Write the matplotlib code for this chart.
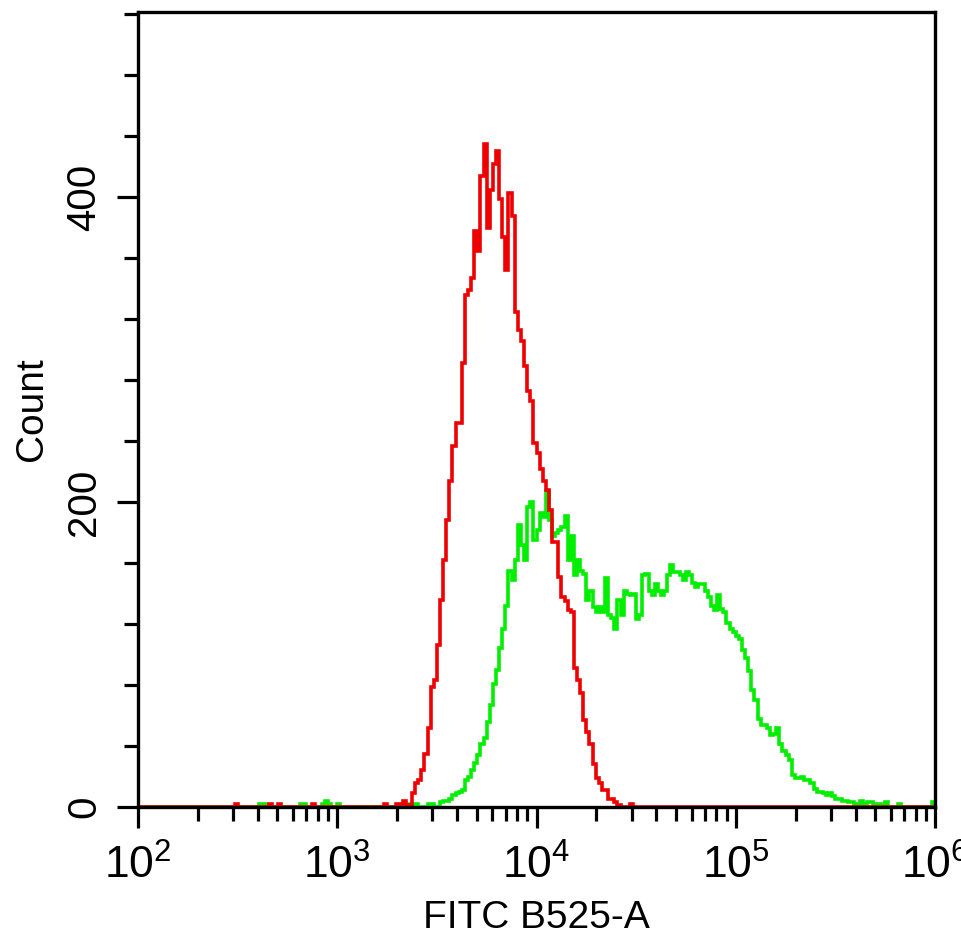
import numpy as np
import matplotlib
matplotlib.use("Agg")
import matplotlib.pyplot as plt
from matplotlib.ticker import LogLocator, MultipleLocator, FixedLocator, NullFormatter

plt.rcParams['font.family'] = ['Liberation Sans', 'DejaVu Sans']
plt.rcParams['mathtext.fontset'] = 'custom'
plt.rcParams['mathtext.rm'] = 'Liberation Sans'
plt.rcParams['mathtext.default'] = 'regular'

# histogram: 256 log bins from 10^2 to 10^6
n_bins = 256
log_lo, log_hi = 2, 6

# unstained / control (red), counts starting at bin red_first
red_first = 30
red_counts = [0, 2, 0, 0, 0, 0, 0, 0, 0, 0, 0, 0, 2, 0, 0, 2, 0, 0, 0, 0,
              0, 0, 0, 0, 0, 0, 2, 0, 0, 0, 0, 0, 0, 0, 0, 0, 0, 0, 0, 0,
              0, 0, 0, 0, 0, 0, 0, 0, 0, 2, 0, 0, 0, 2, 2, 4, 1, 1, 9, 16,
              18, 24, 35, 52, 79, 83, 106, 136, 162, 188, 214, 237, 252, 252, 291, 336, 339, 347, 378, 365,
              414, 435, 380, 405, 422, 430, 399, 374, 352, 403, 388, 325, 313, 306, 289, 273, 266, 239, 232, 222,
              214, 208, 195, 174, 174, 151, 138, 135, 129, 128, 91, 83, 75, 57, 49, 41, 28, 19, 16, 11,
              11, 5, 5, 3, 1, 0, 0, 0, 2]

# stained sample (green), counts starting at bin green_first
green_first = 38
green_counts = [0, 2, 2, 0, 0, 0, 0, 0, 0, 0, 0, 0, 0, 0, 2, 2, 0, 0, 0, 0,
                0, 2, 4, 2, 0, 0, 2, 0, 0, 0, 0, 0, 0, 0, 0, 0, 0, 0, 0, 0,
                0, 0, 0, 0, 0, 0, 0, 0, 0, 2, 0, 2, 0, 0, 0, 2, 2, 0, 0, 3,
                4, 4, 5, 8, 9, 10, 11, 18, 20, 24, 29, 34, 41, 45, 56, 67, 81, 90, 104, 117,
                132, 155, 149, 162, 185, 172, 162, 197, 200, 175, 182, 193, 190, 207, 188, 178, 180, 182, 184, 191,
                162, 178, 152, 162, 155, 153, 136, 142, 131, 128, 131, 128, 150, 126, 124, 117, 136, 126, 142, 140,
                139, 140, 123, 126, 152, 153, 142, 139, 146, 142, 139, 142, 152, 159, 154, 154, 152, 149, 154, 152,
                147, 144, 146, 146, 142, 138, 132, 129, 139, 130, 128, 121, 117, 115, 112, 110, 103, 98, 89, 77,
                70, 58, 54, 54, 52, 47, 48, 52, 41, 37, 34, 31, 21, 19, 19, 20, 18, 18, 16, 12,
                10, 10, 9, 8, 9, 7, 5, 5, 4, 4, 3, 3, 2, 2, 4, 2, 3, 3, 2, 2,
                2, 0, 3, 0, 0, 0, 2, 0, 0, 0, 0, 0, 0, 0, 0, 0, 0, 3]

x_label = "FITC B525-A"
y_label = "Count"
y_ticks = [0, 200, 400]


def full_counts(first, counts):
    arr = np.zeros(n_bins)
    arr[first:first + len(counts)] = counts
    return arr


edges = 10 ** np.linspace(log_lo, log_hi, n_bins + 1)

fig = plt.figure(figsize=(9.62, 9.38), dpi=100)
ax = fig.add_axes([138 / 962, 131 / 938, 797 / 962, 795 / 938])

ax.stairs(full_counts(green_first, green_counts), edges, color="#00ee00", lw=2.6)
ax.stairs(full_counts(red_first, red_counts), edges, color="#ee0000", lw=2.6)

ax.set_xscale("log")
ax.set_xlim(10 ** log_lo, 10 ** log_hi)
ax.set_ylim(0, 521.5)

ax.xaxis.set_minor_locator(LogLocator(base=10, subs=np.arange(2, 10), numticks=10))
ax.xaxis.set_minor_formatter(NullFormatter())
ax.set_xticks([10 ** k for k in range(log_lo, log_hi + 1)])
ax.set_xticklabels([r"$10^{%d}$" % k for k in range(log_lo, log_hi + 1)], fontsize=32)

ax.yaxis.set_major_locator(FixedLocator(y_ticks))
ax.yaxis.set_minor_locator(MultipleLocator(40))
ax.set_yticklabels([str(v) for v in y_ticks], rotation=90, va="center", fontsize=29)

ax.tick_params(axis="both", which="major", direction="out", length=15, width=2.3, color="black")
ax.tick_params(axis="both", which="minor", direction="out", length=10, width=2.3, color="black")
ax.tick_params(axis="x", which="major", pad=12)
ax.tick_params(axis="y", which="major", pad=10)

for sp in ax.spines.values():
    sp.set_linewidth(2.4)
    sp.set_zorder(5)

ax.set_xlabel(x_label, fontsize=28)
ax.set_ylabel(y_label, fontsize=28)
ax.xaxis.set_label_coords(0.5, -0.117)
ax.yaxis.set_label_coords(-0.111, 0.5)

fig.savefig("out.png", dpi=100, facecolor="white")
